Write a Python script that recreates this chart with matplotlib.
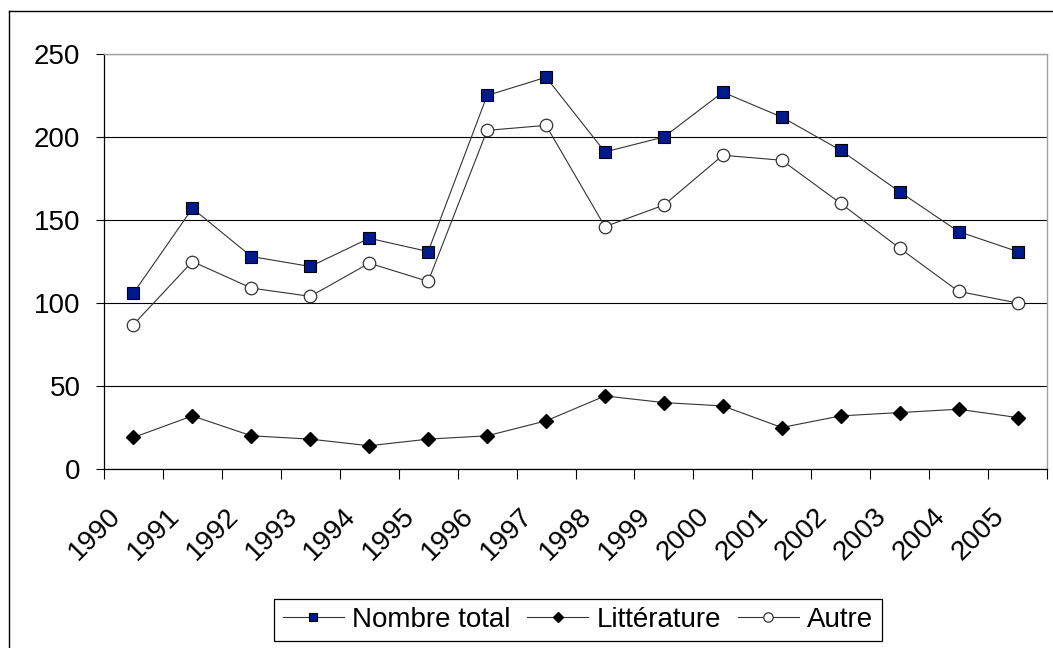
import matplotlib.pyplot as plt
from matplotlib.lines import Line2D
from matplotlib.transforms import ScaledTranslation

plt.rcParams['font.family'] = ['Liberation Sans', 'DejaVu Sans']

years = ['1990', '1991', '1992', '1993', '1994', '1995', '1996', '1997',
         '1998', '1999', '2000', '2001', '2002', '2003', '2004', '2005']
total = [106, 157, 128, 122, 139, 131, 225, 236, 191, 200, 227, 212, 192, 167, 143, 131]
litterature = [19, 32, 20, 18, 14, 18, 20, 29, 44, 40, 38, 25, 32, 34, 36, 31]
autre = [87, 125, 109, 104, 124, 113, 204, 207, 146, 159, 189, 186, 160, 133, 107, 100]

W, H = 1053, 648
fig = plt.figure(figsize=(W / 100, H / 100), dpi=100)
# plot area in pixels: x 104..1047, y 54..469
ax = fig.add_axes([104 / W, 1 - 469 / H, (1047 - 104) / W, (469 - 54) / H])

x = range(len(years))
ax.plot(x, total, color='#333333', lw=0.8, marker='s', ms=8,
        mfc='#001a8c', mec='black', mew=0.8, label='Nombre total', zorder=3)
ax.plot(x, litterature, color='#333333', lw=0.8, marker='D', ms=7,
        mfc='black', mec='black', label='Littérature', zorder=3)
ax.plot(x, autre, color='#333333', lw=0.8, marker='o', ms=9,
        mfc='white', mec='#333333', mew=0.9, label='Autre', zorder=3)

ax.set_xlim(-0.5, len(years) - 0.5)
ax.set_ylim(0, 250)
ax.set_yticks([0, 50, 100, 150, 200, 250])
ax.yaxis.grid(True, color='black', lw=0.8)
ax.set_axisbelow(True)

ax.set_xticks(list(x))
ax.set_xticklabels(years, rotation=45, ha='right', va='center',
                   rotation_mode='anchor', fontsize=20)
ax.set_xticks([i - 0.5 for i in range(len(years) + 1)], minor=True)
ax.tick_params(axis='x', which='major', length=0, pad=31)
ax.tick_params(axis='x', which='minor', length=7, width=0.8, direction='out')
ax.tick_params(axis='y', length=6, width=0.8, direction='out', pad=11, labelsize=20)
for lbl in ax.get_xticklabels():
    lbl.set_transform(lbl.get_transform() + ScaledTranslation(-0.17, 0, fig.dpi_scale_trans))

for s in ['left', 'bottom']:
    ax.spines[s].set_color('black')
    ax.spines[s].set_linewidth(0.9)
for s in ['top', 'right']:
    ax.spines[s].set_color('#a0a0a0')
    ax.spines[s].set_linewidth(1.0)

leg = fig.legend(loc='center', bbox_to_anchor=(578 / W, 1 - 620 / H), ncol=3,
                 fontsize=20, frameon=True, fancybox=False, edgecolor='black',
                 framealpha=1, handlelength=2.2, handletextpad=0.3,
                 columnspacing=0.6, markerscale=0.75, borderpad=0.3)
leg.get_frame().set_linewidth(0.9)

# outer chart frame
fig.add_artist(Line2D([9 / W, 9 / W], [0, 1 - 11 / H], color='black', lw=1,
                      transform=fig.transFigure))
fig.add_artist(Line2D([9 / W, 1], [1 - 11 / H, 1 - 11 / H], color='black', lw=1,
                      transform=fig.transFigure))

fig.savefig('out.png', dpi=100)
